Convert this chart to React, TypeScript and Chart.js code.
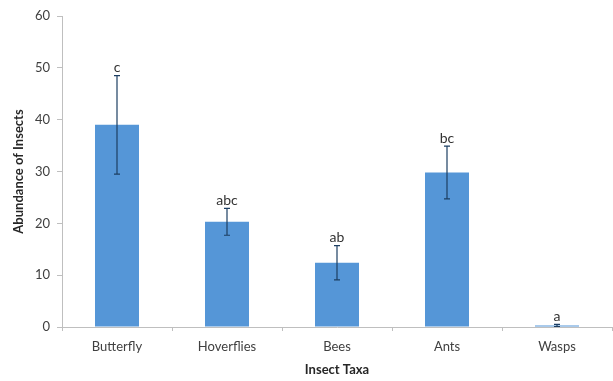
import React, { useEffect, useRef } from "react";
import { Chart, registerables } from "chart.js";

Chart.register(...registerables);

const categories = ["Butterfly", "Hoverflies", "Bees", "Ants", "Wasps"];
const means = [39, 20.3, 12.4, 29.8, 0.3];
const errors = [9.5, 2.6, 3.3, 5.1, 0.2];
const letters = ["c", "abc", "ab", "bc", "a"];
const yTicks = [0, 10, 20, 30, 40, 50, 60];

const FONT = "Lato, 'Open Sans', sans-serif";

const errorPlugin = {
  id: "errorBarsLetters",
  afterDatasetsDraw(chart: any) {
    const ctx = chart.ctx;
    const meta = chart.getDatasetMeta(0);
    const y = chart.scales.y;
    ctx.save();
    meta.data.forEach((bar: any, i: number) => {
      const x = bar.x;
      const top = y.getPixelForValue(means[i] + errors[i]);
      const bot = y.getPixelForValue(Math.max(0, means[i] - errors[i]));
      ctx.strokeStyle = "#1d3f63";
      ctx.lineWidth = 1.2;
      ctx.beginPath();
      ctx.moveTo(x, top);
      ctx.lineTo(x, bot);
      ctx.moveTo(x - 3, top);
      ctx.lineTo(x + 3, top);
      ctx.moveTo(x - 3, bot);
      ctx.lineTo(x + 3, bot);
      ctx.stroke();
      ctx.fillStyle = "#333333";
      ctx.font = `14px ${FONT}`;
      ctx.textAlign = "center";
      ctx.textBaseline = "bottom";
      ctx.fillText(letters[i], x, top - 1);
    });
    ctx.restore();
  },
};

export default function App() {
  const ref = useRef<HTMLCanvasElement>(null);
  useEffect(() => {
    if (!ref.current) return;
    const chart = new Chart(ref.current, {
      type: "bar",
      data: {
        labels: categories,
        datasets: [
          {
            data: means,
            backgroundColor: "#5596d7",
            borderWidth: 0,
            barPercentage: 0.4,
            categoryPercentage: 1,
          },
        ],
      },
      plugins: [errorPlugin],
      options: {
        animation: false,
        responsive: false,
        maintainAspectRatio: false,
        layout: { padding: { top: 16, right: 1, left: 0, bottom: 0 } },
        plugins: { legend: { display: false }, tooltip: { enabled: false } },
        scales: {
          x: {
            offset: true,
            grid: {
              offset: true,
              drawOnChartArea: false,
              drawTicks: true,
              tickLength: 4,
              color: "#bfbfbf",
            },
            border: { color: "#bfbfbf", width: 1 },
            ticks: {
              color: "#404040",
              font: { family: FONT, size: 13 },
              padding: 8,
            },
            title: {
              display: true,
              text: "Insect Taxa",
              color: "#262626",
              font: { family: FONT, size: 13, weight: "bold" },
              padding: { top: 2, bottom: 3 },
            },
            afterFit(scale: any) {
              scale.height = 54;
            },
          },
          y: {
            min: 0,
            max: 60,
            afterBuildTicks(scale: any) {
              scale.ticks = yTicks.map((v) => ({ value: v }));
            },
            grid: {
              drawOnChartArea: false,
              drawTicks: true,
              tickLength: 5,
              color: "#bfbfbf",
            },
            border: { color: "#bfbfbf", width: 1 },
            ticks: {
              color: "#404040",
              font: { family: FONT, size: 13 },
              padding: 7,
            },
            title: {
              display: true,
              text: "Abundance of Insects",
              color: "#262626",
              font: { family: FONT, size: 13, weight: "bold" },
              padding: { top: 11, bottom: 4 },
            },
            afterFit(scale: any) {
              scale.width = 62;
            },
          },
        },
      },
    });
    return () => chart.destroy();
  }, []);
  return (
    <div style={{ position: "fixed", left: 0, top: 0, width: 613, height: 381, background: "#fff" }}>
      <canvas ref={ref} width={613} height={381} style={{ width: 613, height: 381 }} />
    </div>
  );
}
